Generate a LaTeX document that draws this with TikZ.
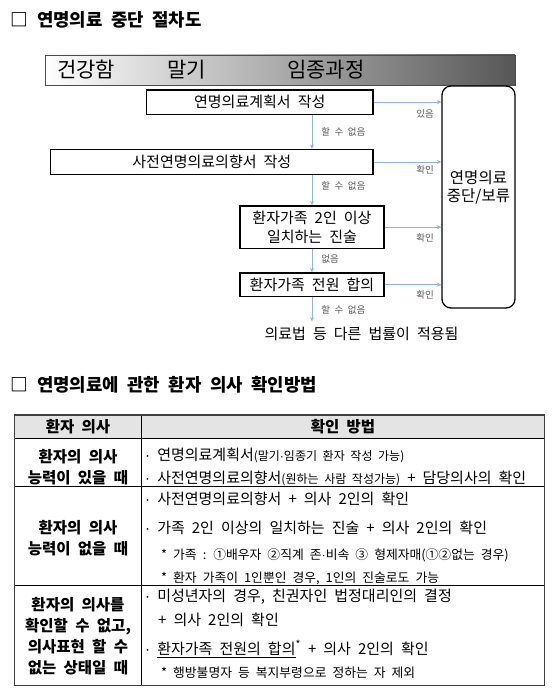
\documentclass[tikz,border=0pt]{standalone}
\usepackage{fontspec}
\setmainfont{Noto Sans CJK KR}[WordSpace=2.1]
\newfontfamily\latinfont{Liberation Sans}
\usetikzlibrary{arrows.meta, positioning, calc}
\definecolor{flowblue}{HTML}{8EB4E3}
\definecolor{lblgray}{HTML}{595959}
\definecolor{headgray}{HTML}{E4E4E4}
\newcommand{\smtxt}[1]{{\fontsize{12}{14}\selectfont #1}}
\newcommand{\mdot}{{\latinfont ·}}
\tikzset{
    stepbox/.style={draw=black, line width=1.3pt, inner sep=0pt, align=center, font=\fontsize{15}{19.5}\selectfont},
    endbox/.style={stepbox, rounded corners=9pt, font=\fontsize{15.5}{18}\selectfont},
    flow/.style={-{Stealth[length=4.5pt, width=4pt]}, flowblue, line width=0.8pt},
    lbl/.style={font=\fontsize{9.5}{10}\selectfont, text=lblgray, inner sep=0pt},
    ttl/.style={anchor=west, inner sep=0pt, font=\bfseries\fontsize{17.8}{20}\selectfont},
    stage/.style={anchor=west, inner sep=0pt, font=\fontsize{21}{24}\selectfont},
    cell/.style={anchor=west, inner sep=0pt, font=\fontsize{15}{17}\selectfont},
    note/.style={anchor=west, inner sep=0pt, font=\fontsize{12.8}{14}\selectfont},
    lcell/.style={align=center, inner sep=0pt, font=\bfseries\fontsize{15.5}{21}\selectfont}
}

\begin{document}
\begin{tikzpicture}[x=1pt, y=-1pt]
    \useasboundingbox (0,0) rectangle (554,693);

    % 절차도 제목
    \node[ttl] (title1) at (10.5,19.5) {□ 연명의료 중단 절차도};

    % 단계 막대
    \draw[left color=white, right color=black!66, draw=black!70, line width=0.8pt] (45,55) rectangle (515,85);
    \node[stage] (healthy) at (57,70) {건강함};
    \node[stage] (terminal) at (167,70) {말기};
    \node[stage] (dying) at (287,70) {임종과정};

    % 절차 상자
    \node[stepbox, minimum width=226.5pt, minimum height=24.4pt] (plan) at (259.75,102.2) {연명의료계획서 작성};
    \node[stepbox, minimum width=322.3pt, minimum height=24.8pt] (advance) at (211.85,161.9) {사전연명의료의향서 작성};
    \node[stepbox, minimum width=144pt, minimum height=42.5pt] (family) at (312,227.25) {환자가족 2인 이상\\일치하는 진술};
    \node[stepbox, minimum width=144pt, minimum height=23.4pt] (consent) at (312,284.7) {환자가족 전원 합의};
    \node[endbox, minimum width=73pt, minimum height=222pt] (stop) at (478.5,197) {연명의료\\중단/보류\\[3pt]};
    \node[inner sep=0pt, font=\fontsize{15}{17}\selectfont] (law) at (361.5,333.6) {의료법 등 다른 법률이 적용됨};

    % 확인 화살표
    \draw[flow] (plan.east) -- (plan.east -| stop.west) node[lbl, pos=1, anchor=north east, xshift=-7pt, yshift=-7.5pt] (yes) {있음};
    \draw[flow] (advance.east) -- (advance.east -| stop.west) node[lbl, pos=1, anchor=north east, xshift=-7pt, yshift=-3.5pt] (ok1) {확인};
    \draw[flow] (family.east) -- (family.east -| stop.west) node[lbl, pos=1, anchor=north east, xshift=-7pt, yshift=-6pt] (ok2) {확인};
    \draw[flow] (consent.east) -- (consent.east -| stop.west) node[lbl, pos=1, anchor=north east, xshift=-7pt, yshift=-5pt] (ok3) {확인};

    % 할 수 없음
    \draw[flow] (plan.south -| family.north) -- (advance.north -| family.north) node[lbl, midway, anchor=west, xshift=9pt] (no1) {할 수 없음};
    \draw[flow] (advance.south -| family.north) -- (family.north) node[lbl, midway, anchor=west, xshift=9pt, yshift=4pt] (no2) {할 수 없음};
    \draw[flow] (family.south) -- (consent.north) node[lbl, midway, anchor=west, xshift=9pt, yshift=1.5pt] (none) {없음};
    \draw[flow, shorten >=5pt] (consent.south) -- (consent.south |- law.north) node[lbl, pos=0.45, anchor=west, xshift=9pt] (no3) {할 수 없음};

    % 확인방법 표
    \node[ttl] (title2) at (10.5,385) {□ 연명의료에 관한 환자 의사 확인방법};
    \fill[headgray] (14.2,415) rectangle (544.3,438.7);
    \foreach \y in {438.7, 486, 585}
        \draw[line width=0.8pt] (14.2,\y) -- (544.3,\y);
    \draw[line width=0.8pt] (141.8,415) -- (141.8,685.7);
    \draw[line width=1.3pt, black!75] (14.2,415) rectangle (544.3,685.7);

    \node[lcell] (headwho) at (78,427) {환자 의사};
    \node[lcell] (headhow) at (343,427) {확인 방법};

    \node[lcell] (able) at (78,467.6) {환자의 의사\\능력이 있을 때};
    \node[cell] (r1a) at (145,455) {\mdot{} 연명의료계획서\smtxt{(말기\mdot{}임종기 환자 작성 가능)}};
    \node[cell] (r1b) at (145,478.8) {\mdot{} 사전연명의료의향서\smtxt{(원하는 사람 작성가능)} + 담당의사의 확인};

    \node[lcell] (unable) at (78,538.6) {환자의 의사\\능력이 없을 때};
    \node[cell] (r2a) at (145,498.4) {\mdot{} 사전연명의료의향서 + 의사 2인의 확인};
    \node[cell] (r2b) at (145,527.8) {\mdot{} 가족 2인 이상의 일치하는 진술 + 의사 2인의 확인};
    \node[note] (r2c) at (161,555) {* 가족 : ①배우자 ②직계 존\mdot{}비속 ③ 형제자매(①②없는 경우)};
    \node[note] (r2d) at (161,578) {* 환자 가족이 1인뿐인 경우, 1인의 진술로도 가능};

    \node[lcell] (unknown) at (78,636.3) {환자의 의사를\\확인할 수 없고,\\의사표현 할 수\\없는 상태일 때};
    \node[cell] (r3a) at (145,597) {\mdot{} 미성년자의 경우, 친권자인 법정대리인의 결정};
    \node[cell] (r3b) at (158,619.7) {+ 의사 2인의 확인};
    \node[cell] (r3c) at (145,649) {\mdot{} \underline{환자가족 전원의 합의}\textsuperscript{*} + 의사 2인의 확인};
    \node[note] (r3d) at (161,673) {* 행방불명자 등 복지부령으로 정하는 자 제외};
\end{tikzpicture}
\end{document}
